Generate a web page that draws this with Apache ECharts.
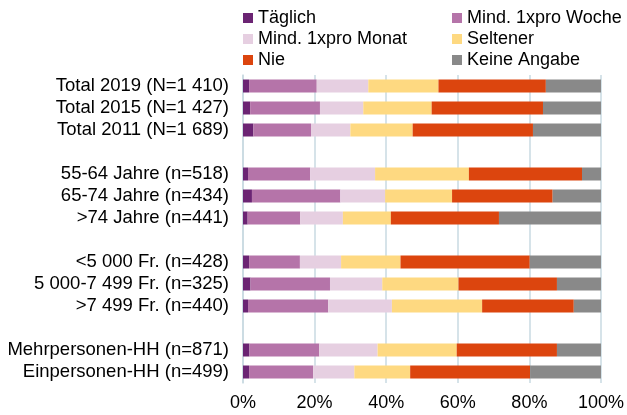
<!DOCTYPE html>
<html>
<head>
<meta charset="utf-8">
<script src="https://cdn.jsdelivr.net/npm/echarts@6/dist/echarts.min.js"></script>
<style>
  html, body { margin: 0; padding: 0; background: #fff; }
  #container { width: 627px; height: 415px; }
</style>
</head>
<body>
<div id="container"></div>
<script>
var dom = document.getElementById('container');
var myChart = echarts.init(dom, null, { renderer: 'canvas' });

// rows (blank strings are the gaps between groups)
const categories = [
  'Total 2019 (N=1 410)', 'Total 2015 (N=1 427)', 'Total 2011 (N=1 689)', ' ',
  '55-64 Jahre (n=518)', '65-74 Jahre (n=434)', '>74 Jahre (n=441)', '  ',
  '<5 000 Fr. (n=428)', '5 000-7 499 Fr. (n=325)', '>7 499 Fr. (n=440)', '   ',
  'Mehrpersonen-HH (n=871)', 'Einpersonen-HH (n=499)'
];

const seriesNames = ['Täglich', 'Mind. 1xpro Woche', 'Mind. 1xpro Monat', 'Seltener', 'Nie', 'Keine Angabe'];

// values in percent, '-' = gap row
const taeglich = [1.7, 2.0, 2.9, '-', 1.4, 2.5, 1.3, '-', 1.7, 2.1, 1.4, '-', 1.8, 1.7];
const woche    = [18.9, 19.5, 16.1, '-', 17.4, 24.7, 14.7, '-', 14.2, 22.2, 22.4, '-', 19.5, 17.9];
const monat    = [14.4, 12.1, 11.0, '-', 18.1, 12.5, 11.9, '-', 11.5, 14.6, 17.8, '-', 16.3, 11.5];
const seltener = [19.6, 19.1, 17.4, '-', 26.2, 18.7, 13.4, '-', 16.6, 21.3, 25.2, '-', 22.1, 15.6];
const nie      = [30.0, 31.1, 33.6, '-', 31.6, 28.1, 30.2, '-', 36.1, 27.5, 25.6, '-', 28.0, 33.5];
const keine    = [15.4, 16.2, 19.0, '-', 5.3, 13.5, 28.5, '-', 19.9, 12.3, 7.6, '-', 12.3, 19.8];

const values = [taeglich, woche, monat, seltener, nie, keine];
const colors = ['#6b2473', '#b574a9', '#e6cfe1', '#fed981', '#dc450e', '#898989'];

const font = 'Liberation Sans, Arial, sans-serif';

function legendAt(left, names) {
  return {
    orient: 'vertical',
    left: left,
    top: 9,
    padding: 0,
    itemWidth: 10,
    itemHeight: 10,
    itemGap: 3,
    icon: 'rect',
    textStyle: { fontFamily: font, fontSize: 18, lineHeight: 16, color: '#000' },
    data: names
  };
}

var option = {
  animation: false,
  color: colors,
  legend: [
    legendAt(243, [seriesNames[0], seriesNames[2], seriesNames[4]]),
    legendAt(452, [seriesNames[1], seriesNames[3], seriesNames[5]])
  ],
  grid: { left: 243, right: 26, top: 75, bottom: 32 },
  xAxis: {
    type: 'value',
    min: 0,
    max: 100,
    interval: 20,
    axisLabel: { formatter: '{value}%', fontFamily: font, fontSize: 18, color: '#000', margin: 11 },
    axisLine: { show: false },
    axisTick: { show: false },
    splitLine: { show: true, lineStyle: { color: '#c8dae2', width: 1.5 } }
  },
  yAxis: {
    type: 'category',
    inverse: true,
    data: categories,
    axisLabel: { interval: 0, fontFamily: font, fontSize: 18.5, lineHeight: 20, color: '#000', margin: 14 },
    axisLine: { show: true, lineStyle: { color: '#c8dae2', width: 1.5 } },
    axisTick: { show: false }
  },
  series: seriesNames.map(function (name, i) {
    return {
      name: name,
      type: 'bar',
      stack: 'total',
      barWidth: 13,
      data: values[i]
    };
  })
};

myChart.setOption(option);
window.addEventListener('resize', myChart.resize);
</script>
</body>
</html>
